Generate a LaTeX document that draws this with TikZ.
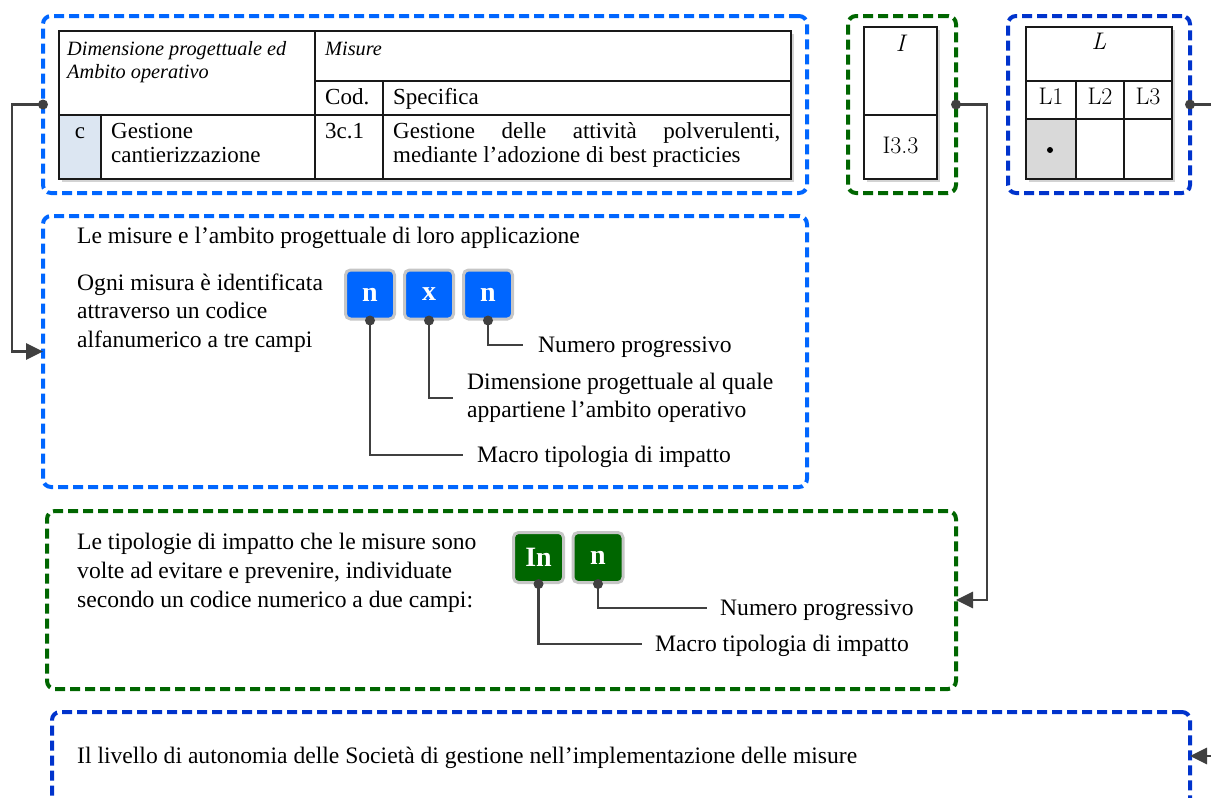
\documentclass[tikz,border=0pt]{standalone}
\usepackage{fontspec}
\newfontfamily\garfam{Liberation Serif}
\newfontfamily\lmfam{Latin Modern Roman}
\usetikzlibrary{arrows.meta,shadows}
\definecolor{bluea}{HTML}{0066FF}
\definecolor{blueb}{HTML}{0033CC}
\definecolor{greena}{HTML}{006600}
\definecolor{conn}{HTML}{404040}
\definecolor{cellblue}{HTML}{DCE6F2}
\definecolor{cellgray}{HTML}{D9D9D9}
\begin{document}
\begin{tikzpicture}[x=1pt,y=-1pt,
  body/.style={anchor=base west, inner sep=0pt, font=\garfam\fontsize{23.6}{28}\selectfont},
  tbody/.style={anchor=base west, inner sep=0pt, font=\garfam\fontsize{23}{24}\selectfont},
  thead/.style={anchor=base west, inner sep=0pt, font=\garfam\itshape\fontsize{20.3}{23}\selectfont},
  lmtxt/.style={anchor=base, inner sep=0pt, font=\lmfam\fontsize{24}{26}\selectfont},
  lmit/.style={anchor=base, inner sep=0pt, font=\lmfam\itshape\fontsize{24}{26}\selectfont},
  dbox/.style={draw=#1, dash pattern=on 10pt off 5pt, line width=4pt, rounded corners=8pt, inner sep=0pt, outer sep=0pt},
  codebox/.style={draw=gray!45, line width=3pt, fill=#1, rounded corners=5pt, minimum width=49pt, minimum height=49pt, inner sep=0pt, text=white, font=\garfam\bfseries\fontsize{28}{28}\selectfont},
  dotc/.style={circle, fill=conn, inner sep=0pt, minimum size=10pt},
  link/.style={draw=conn, line width=2.8pt},
  arrowlink/.style={link, -{Triangle[length=17pt,width=16pt]}},
  lbl/.style={anchor=west, inner ysep=0pt, inner xsep=#1, text height=18pt, text depth=4pt, font=\garfam\fontsize{23.6}{28}\selectfont},
  lbltwo/.style={anchor=west, inner ysep=0pt, inner xsep=#1, align=left, font=\garfam\fontsize{23.6}{28}\selectfont},
  tbl/.style={draw=black!90, line width=2pt},
  shad/.style={fill=white, drop shadow={shadow xshift=2.5pt, shadow yshift=-2.5pt, opacity=0.35}},
]
\useasboundingbox (0,0) rectangle (1211,798);

% ---------- dashed frames ----------
\node[dbox=bluea, minimum width=764pt, minimum height=177pt] (b1) at (425,104.5) {};
\node[dbox=bluea, minimum width=764pt, minimum height=271pt] (b2) at (425,351.5) {};
\node[dbox=greena, minimum width=909pt, minimum height=178pt] (b3) at (501.5,600) {};
\node[dbox=greena, minimum width=108pt, minimum height=177pt] (bI) at (902,104.5) {};
\node[dbox=blueb, minimum width=182pt, minimum height=177pt] (bL) at (1099,104.5) {};
\node[dbox=blueb, minimum width=1138pt, minimum height=118pt] (b4) at (621,771) {};

% ---------- main table ----------
\path[shad] (59,31) rectangle (791,179);
\fill[cellblue] (59,115) rectangle (101,179);
\draw[tbl] (59,31) rectangle (791,179);
\draw[tbl] (315,31) -- (315,179);
\draw[tbl] (315,81) -- (791,81);
\draw[tbl] (59,115) -- (791,115);
\draw[tbl] (383,81) -- (383,179);
\draw[tbl] (101,115) -- (101,179);
\node[thead] (h1) at (67,55) {Dimensione progettuale ed};
\node[thead] (h2) at (67,78) {Ambito operativo};
\node[thead] (h3) at (325,55) {Misure};
\node[tbody] (h4) at (325,104) {Cod.};
\node[tbody] (h5) at (393,104) {Specifica};
\node[tbody, anchor=base] (c1) at (80,138) {c};
\node[tbody] (c2) at (111,138) {Gestione};
\node[tbody] (c3) at (111,162) {cantierizzazione};
\node[tbody] (c4) at (325,138) {3c.1};
\node[tbody] (c5) at (393,138) {\makebox[387pt][s]{Gestione delle attività polverulenti,}};
\node[tbody] (c6) at (393,162) {mediante l’adozione di best practicies};

% ---------- I table ----------
\path[shad] (864,27) rectangle (937,179);
\draw[tbl] (864,27) rectangle (937,179);
\draw[tbl] (864,115) -- (937,115);
\node[lmit] (iI) at (900.5,51) {I};
\node[lmtxt] (i33) at (900.5,153) {I3.3};

% ---------- L table ----------
\path[shad] (1026,27) rectangle (1172,179);
\fill[cellgray] (1026,119) rectangle (1076,179);
\draw[tbl] (1026,27) rectangle (1172,179);
\draw[tbl] (1026,81) -- (1172,81);
\draw[tbl] (1026,119) -- (1172,119);
\draw[tbl] (1076,81) -- (1076,179);
\draw[tbl] (1124,81) -- (1124,179);
\node[lmit] (lL) at (1099,49) {L};
\node[lmtxt] (l1) at (1051,104) {L1};
\node[lmtxt] (l2) at (1100,104) {L2};
\node[lmtxt] (l3) at (1148,104) {L3};
\node[circle, fill=black, inner sep=0pt, minimum size=6pt] (ldot) at (1050,150) {};

% ---------- box 2 ----------
\node[body] (p1) at (77,243) {Le misure e l’ambito progettuale di loro applicazione};
\node[body] (p2) at (77,290) {Ogni misura è identificata};
\node[body] (p3) at (77,318.5) {attraverso un codice};
\node[body] (p4) at (77,347) {alfanumerico a tre campi};
\node[codebox=bluea] (k1) at (370,294.5) {n};
\node[codebox=bluea] (k2) at (429,294.5) {x};
\node[codebox=bluea] (k3) at (488,294.5) {n};
\node[lbl=15pt] (m3) at (523,345) {Numero progressivo};
\node[lbltwo=14pt] (m2) at (453,398) {Dimensione progettuale al quale\\appartiene l’ambito operativo};
\node[lbl=14pt] (m1) at (463,455) {Macro tipologia di impatto};
\draw[link] (k3.south) |- (m3.west);
\draw[link] (k2.south) |- (m2.west);
\draw[link] (k1.south) |- (m1.west);
\node[dotc] at (k1.south) {};
\node[dotc] at (k2.south) {};
\node[dotc] at (k3.south) {};

% ---------- box 3 ----------
\node[body] (q1) at (77,549) {Le tipologie di impatto che le misure sono};
\node[body] (q2) at (77,578) {volte ad evitare e prevenire, individuate};
\node[body] (q3) at (77,607) {secondo un codice numerico a due campi:};
\node[codebox=greena, minimum width=50pt, minimum height=50pt] (g1) at (538.5,557.5) {In};
\node[codebox=greena, minimum width=50pt, minimum height=50pt] (g2) at (598,557.5) {n};
\node[lbl=13pt] (r2) at (707,608) {Numero progressivo};
\node[lbl=13pt] (r1) at (642,644) {Macro tipologia di impatto};
\draw[link] (g2.south) |- (r2.west);
\draw[link] (g1.south) |- (r1.west);
\node[dotc] at (g1.south) {};
\node[dotc] at (g2.south) {};

% ---------- box 4 ----------
\node[body] (s1) at (77,763) {Il livello di autonomia delle Società di gestione nell’implementazione delle misure};

% ---------- connectors between frames ----------
\coordinate (lx) at (12,104.5);
\draw[arrowlink] (b1.west) -- (lx) |- (b2.west);
\node[dotc] at (b1.west) {};

\coordinate (ix) at (987,104.5);
\draw[arrowlink] (bI.east) -- (ix) |- (b3.east);
\node[dotc] at (bI.east) {};

\coordinate (rout) at (1218,104.5);
\draw[link] (bL.east) -- (rout);
\node[dotc] at (bL.east) {};

\coordinate (rin) at (1218,756);
\coordinate (b4in) at (1190,756);
\draw[arrowlink] (rin) -- (b4in);
\end{tikzpicture}
\end{document}
